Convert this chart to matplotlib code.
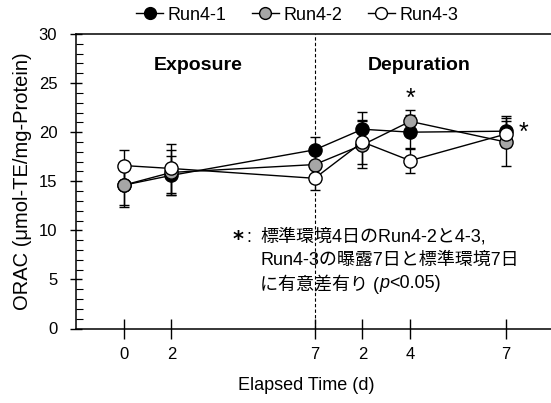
import matplotlib
matplotlib.use("Agg")
import matplotlib.pyplot as plt
from matplotlib.lines import Line2D

# ---- data ----
positions = [0, 2, 8, 10, 12, 16]
tick_labels = ['0', '2', '7', '2', '4', '7']
run1 = [14.6, 15.6, 18.2, 20.3, 20.0, 20.1]
err1 = [2.2, 2.0, 1.3, 1.8, 1.7, 1.5]
run2 = [14.6, 15.9, 16.7, 18.7, 21.1, 19.0]
err2 = [2.0, 2.3, 1.5, 2.4, 1.2, 2.45]
run3 = [16.6, 16.3, 15.3, 19.0, 17.1, 19.8]
err3 = [1.6, 2.5, 1.2, 2.2, 1.3, 1.3]
series_names = ['Run4-1', 'Run4-2', 'Run4-3']
face_colors = ['black', '#a6a6a6', 'white']
divider_x = 8
star_points = [(12, 23.4), (16.75, 19.9)]

W, H = 551, 403
JP = ['Liberation Sans', 'Noto Sans CJK JP']
plt.rcParams['font.family'] = JP

fig = plt.figure(figsize=(W / 100, H / 100), dpi=100)
ax = fig.add_axes([76 / W, 1 - 328.5 / H, (W - 76) / W, 294.5 / H])

for y, e, fc in zip([run1, run2, run3], [err1, err2, err3], face_colors):
    ax.errorbar(positions, y, yerr=e, fmt='-o', color='black', mfc=fc, mec='black',
                ms=9.5, mew=1.0, lw=1.0, elinewidth=1.0, capsize=3.5, capthick=1.0)

ax.axvline(divider_x, color='black', lw=0.8, ls=(0, (3, 2)), zorder=0)

ax.set_xlim(-2, 17.9)
ax.set_ylim(0, 30)
ax.set_xticks(positions)
ax.set_xticklabels(tick_labels)
ax.set_yticks(range(0, 31, 5))
ax.set_yticks(range(0, 31, 1), minor=True)
ax.tick_params(axis='x', which='major', direction='inout', length=14, width=1, labelsize=12, pad=6)
ax.tick_params(axis='y', which='major', direction='inout', length=9, width=1, labelsize=12, pad=9)
ax.tick_params(axis='y', which='minor', direction='in', length=5, width=0.8)
ax.spines['right'].set_visible(False)
for s in ['left', 'bottom', 'top']:
    ax.spines[s].set_linewidth(1.1)

ax.set_ylabel('ORAC (μmol-TE/mg-Protein)', fontsize=14.5, labelpad=5)
fig.text(306 / W, 1 - 386 / H, 'Elapsed Time (d)', fontsize=13, ha='center', va='center')

fig.text(198 / W, 1 - 66 / H, 'Exposure', fontsize=14, fontweight='bold', ha='center', va='center')
fig.text(419 / W, 1 - 66 / H, 'Depuration', fontsize=14, fontweight='bold', ha='center', va='center')

for sx, sy in star_points:
    ax.text(sx, sy, '*', fontsize=18, ha='center', va='center', family='Liberation Sans')

# legend
handles = [Line2D([0], [0], color='black', lw=1.0, marker='o', mfc=fc, mec='black', ms=8.5)
           for fc in face_colors]
fig.legend(handles, series_names, loc='center', bbox_to_anchor=(297 / W, 1 - 15 / H), ncol=3,
           frameon=False, fontsize=13, handlelength=1.5, handletextpad=0.25, columnspacing=1.4)

# annotation
fs = 13
fig.text(238 / W, 1 - 240 / H, '*', fontsize=15, fontweight='bold', ha='center', va='center',
         family='DejaVu Sans')
fig.text(249 / W, 1 - 237 / H, ':', fontsize=fs, ha='center', va='center', family=JP)
fig.text(260 / W, 1 - 237 / H, '標準環境4日のRun4-2と4-3,', fontsize=fs, ha='left', va='center', family=JP)
fig.text(260 / W, 1 - 260 / H, 'Run4-3の曝露7日と標準環境7日', fontsize=fs, ha='left', va='center', family=JP)
t1 = fig.text(260 / W, 1 - 284 / H, 'に有意差有り (', fontsize=fs, ha='left', va='center', family=JP)
fig.canvas.draw()
r = fig.canvas.get_renderer()
bb = t1.get_window_extent(r)
t2 = fig.text(bb.x1 / W, 1 - 284 / H, 'p', fontsize=fs, style='italic', ha='left', va='center',
              family='Liberation Sans')
bb2 = t2.get_window_extent(r)
fig.text(bb2.x1 / W, 1 - 284 / H, '<0.05)', fontsize=fs, ha='left', va='center', family=JP)

fig.savefig('out.png', dpi=100)
